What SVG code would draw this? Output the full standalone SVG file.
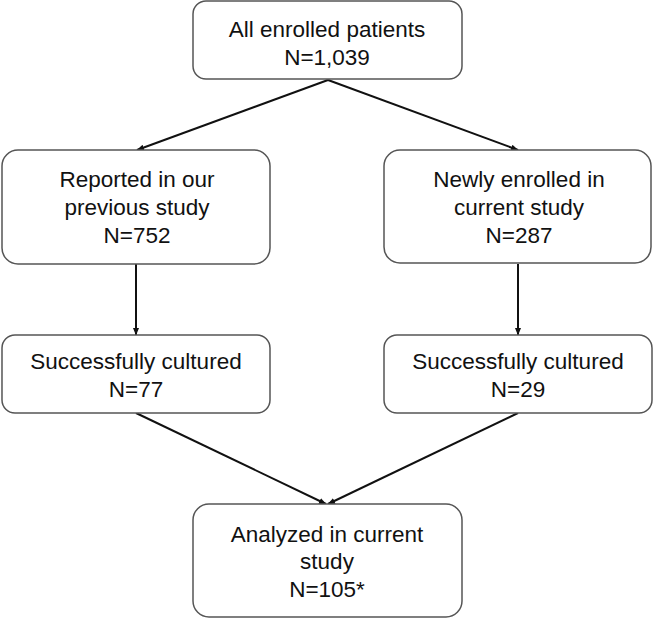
<svg xmlns="http://www.w3.org/2000/svg" width="654" height="620" viewBox="0 0 654 620">
<defs>
<marker id="ah" markerWidth="8" markerHeight="8" refX="7" refY="4" orient="auto" markerUnits="userSpaceOnUse">
<path d="M0,1 L7.5,4 L0,7 Z" fill="#111"/>
</marker>
<style>
.box{fill:#fff;stroke:#555;stroke-width:1.5}
.t{font-family:"Liberation Sans",Arial,sans-serif;font-size:22.5px;fill:#111;text-anchor:middle}
.c{stroke:#111;stroke-width:2;fill:none;marker-end:url(#ah)}
</style>
</defs>
<rect width="654" height="620" fill="#fff"/>
<g id="connectors">
<line class="c" x1="328" y1="80" x2="137" y2="150"/>
<line class="c" x1="328" y1="80" x2="518" y2="150"/>
<line class="c" x1="136" y1="264" x2="136" y2="335"/>
<line class="c" x1="518" y1="264" x2="518" y2="335"/>
<line class="c" x1="136" y1="413" x2="326" y2="504"/>
<line class="c" x1="518" y1="413" x2="328" y2="504"/>
</g>
<g id="n1">
<rect class="box" x="193" y="1" width="269" height="78" rx="13"/>
<text class="t" x="327" y="37">All enrolled patients</text>
<text class="t" x="327" y="65">N=1,039</text>
</g>
<g id="n2">
<rect class="box" x="2" y="150" width="268" height="114" rx="16"/>
<text class="t" x="137" y="187">Reported in our</text>
<text class="t" x="137" y="215">previous study</text>
<text class="t" x="137" y="243">N=752</text>
</g>
<g id="n3">
<rect class="box" x="384" y="150" width="267" height="113" rx="16"/>
<text class="t" x="519" y="187">Newly enrolled in</text>
<text class="t" x="519" y="215">current study</text>
<text class="t" x="519" y="243">N=287</text>
</g>
<g id="n4">
<rect class="box" x="2" y="335" width="268" height="78" rx="13"/>
<text class="t" x="136" y="369">Successfully cultured</text>
<text class="t" x="136" y="397">N=77</text>
</g>
<g id="n5">
<rect class="box" x="384" y="335" width="268" height="78" rx="13"/>
<text class="t" x="518" y="369">Successfully cultured</text>
<text class="t" x="518" y="397">N=29</text>
</g>
<g id="n6">
<rect class="box" x="193" y="504" width="269" height="113" rx="16"/>
<text class="t" x="327" y="542">Analyzed in current</text>
<text class="t" x="327" y="569">study</text>
<text class="t" x="327" y="597">N=105*</text>
</g>
</svg>
